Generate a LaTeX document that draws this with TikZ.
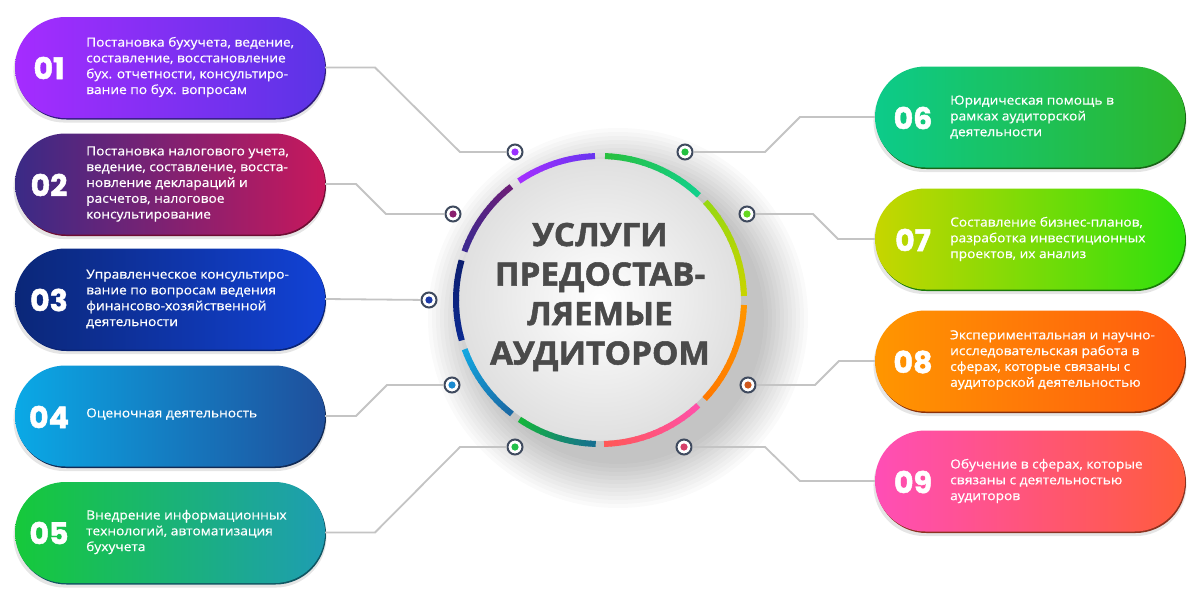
\documentclass[tikz,border=0pt]{standalone}
\usepackage{fontspec}
\setmainfont{Open Sans}
\newfontfamily\bodyfont{Open Sans}[FakeStretch=1.09, FakeBold=0.6]
\newfontfamily\numfont{Poppins}[FakeBold=1.6]
\newfontfamily\titlefont{Open Sans}[FakeStretch=1.04, BoldFeatures={FakeBold=1.6}]
\usetikzlibrary{shadows}
\definecolor{aA}{HTML}{A52CFF}\definecolor{aB}{HTML}{5B34E6}
\definecolor{bA}{HTML}{3A2A86}\definecolor{bB}{HTML}{C8185C}
\definecolor{cA}{HTML}{0B2778}\definecolor{cB}{HTML}{1242D6}
\definecolor{dA}{HTML}{0AA9E6}\definecolor{dB}{HTML}{1F4F9C}
\definecolor{eA}{HTML}{16C93A}\definecolor{eB}{HTML}{1E9DB2}
\definecolor{fA}{HTML}{0CCB8A}\definecolor{fB}{HTML}{2DB72A}
\definecolor{gA}{HTML}{C6D600}\definecolor{gB}{HTML}{2EE00E}
\definecolor{hA}{HTML}{FF9600}\definecolor{hB}{HTML}{FF5A10}
\definecolor{iA}{HTML}{FF4EB6}\definecolor{iB}{HTML}{FF5C3C}
\definecolor{r1a}{HTML}{6A34F0}\definecolor{r1b}{HTML}{A330FF}
\definecolor{r2a}{HTML}{6C1E78}\definecolor{r2b}{HTML}{3D2A90}
\definecolor{r3a}{HTML}{0C1E70}\definecolor{r3b}{HTML}{0C2A90}
\definecolor{r4a}{HTML}{12A6E0}\definecolor{r4b}{HTML}{1A6AA5}
\definecolor{r5a}{HTML}{14B53C}\definecolor{r5b}{HTML}{16708F}
\definecolor{r6a}{HTML}{28C040}\definecolor{r6b}{HTML}{12D08A}
\definecolor{r7a}{HTML}{98D810}\definecolor{r7b}{HTML}{C6D400}
\definecolor{r8a}{HTML}{FF9500}\definecolor{r8b}{HTML}{FF7A00}
\definecolor{r9a}{HTML}{FF50A8}\definecolor{r9b}{HTML}{FF5858}
\definecolor{dotring}{HTML}{3F4A5E}
\definecolor{linegray}{HTML}{C4C4C4}
\definecolor{titlegray}{HTML}{4A4A4A}
\definecolor{diskgray}{HTML}{E0E0E0}
\definecolor{p1}{HTML}{9A30FF}\definecolor{p2}{HTML}{8A1F6E}
\definecolor{p3}{HTML}{1C3AA8}\definecolor{p4}{HTML}{1A8AD0}
\definecolor{p5}{HTML}{22C04A}\definecolor{p6}{HTML}{22C040}
\definecolor{p7}{HTML}{66D820}\definecolor{p8}{HTML}{D0581C}
\definecolor{p9}{HTML}{D6406A}
% gradient arc: start, end (image angles, counter-clockwise), colour at start, colour at end
\newcommand\ringarc[4]{%
  \foreach \k in {0,...,15}{%
    \pgfmathsetmacro\aa{-(#1+(#2-#1)*\k/16)}%
    \pgfmathsetmacro\bb{-(#1+(#2-#1)*(\k+1.15)/16)}%
    \pgfmathsetmacro\pp{100*\k/15}%
    \draw[ringseg, #4!\pp!#3] ([shift={(hub.center)}]\aa:144) arc[start angle=\aa, end angle=\bb, radius=144];
  }}
\begin{document}
\begin{tikzpicture}[x=1pt,y=-1pt,
  svc/.style 2 args={rounded corners=50.5pt, minimum width=310pt, minimum height=101pt,
     inner sep=0pt, left color=#1, right color=#2,
     general shadow={fill=black, opacity=0.10, shadow yshift=-4pt, shadow scale=1.01},
     general shadow={fill=#2!55!black, shadow xshift=1pt, shadow yshift=-1.5pt}},
  num/.style={text=white, font=\numfont\bfseries\fontsize{30}{30}\selectfont, inner sep=0pt},
  txt/.style={text=white, anchor=west, align=left, font=\bodyfont\fontsize{12.6}{15.8}\selectfont, inner sep=0pt},
  dotn/.style={circle, draw=dotring, line width=2pt, fill=white, minimum size=15pt, inner sep=0pt,
     path picture={\fill[#1] (path picture bounding box.center) circle (3.6pt);}},
  conn/.style={draw=linegray, line width=1.8pt},
  ringseg/.style={line width=6pt},
]
\useasboundingbox (0,0) rectangle (1200,600);
\fill[white] (0,0) rectangle (1200,600);

% shadow of the hub
\foreach \r in {146,150,...,190}{\fill[black, opacity=0.018] (618,318) circle (\r);}
\node[circle, minimum size=282pt, inner sep=0pt, inner color=white, outer color=diskgray] (hub) at (600,300) {};

% ring
\ringarc{92}{124}{r1a}{r1b}
\ringarc{128}{160}{r2a}{r2b}
\ringarc{164}{196}{r3a}{r3b}
\ringarc{200}{232}{r4a}{r4b}
\ringarc{236}{268}{r5a}{r5b}
\ringarc{88}{47}{r6a}{r6b}
\ringarc{43}{2}{r7a}{r7b}
\ringarc{-2}{-43}{r8a}{r8b}
\ringarc{-47}{-88}{r9a}{r9b}

\node[text=titlegray, align=center, font=\titlefont\bfseries\fontsize{32}{39.5}\selectfont] (title) at (600,297)
  {УСЛУГИ\\ПРЕДОСТАВ-\\ЛЯЕМЫЕ\\АУДИТОРОМ};

% boxes
\node[svc={aA}{aB}] (b1) at (170,67.5) {};
\node[svc={bA}{bB}] (b2) at (170,184) {};
\node[svc={cA}{cB}] (b3) at (170,299) {};
\node[svc={dA}{dB}] (b4) at (170,416) {};
\node[svc={eA}{eB}] (b5) at (170,532.5) {};
\node[svc={fA}{fB}] (b6) at (1030,117) {};
\node[svc={gA}{gB}] (b7) at (1030,239) {};
\node[svc={hA}{hB}] (b8) at (1030,361) {};
\node[svc={iA}{iB}] (b9) at (1030,481) {};

\node[num] (n1) at (49,68) {01};
\node[num] (n2) at (49,185) {02};
\node[num] (n3) at (49,300) {03};
\node[num] (n4) at (49,417) {04};
\node[num] (n5) at (49,533) {05};
\node[num] (n6) at (913,118) {06};
\node[num] (n7) at (913,240) {07};
\node[num] (n8) at (913,362) {08};
\node[num] (n9) at (913,482) {09};

\node[txt] (t1) at (86,67) {Постановка бухучета, ведение,\\составление, восстановление\\бух. отчетности, консультиро-\\вание по бух. вопросам};
\node[txt] (t2) at (86,184) {Постановка налогового учета,\\ведение, составление, восста-\\новление деклараций и\\расчетов, налоговое\\консультирование};
\node[txt] (t3) at (86,299) {Управленческое консультиро-\\вание по вопросам ведения\\финансово-хозяйственной\\деятельности};
\node[txt] (t4) at (86,414) {Оценочная деятельность};
\node[txt] (t5) at (86,532) {Внедрение информационных\\технологий, автоматизация\\бухучета};
\node[txt] (t6) at (950,117) {Юридическая помощь в\\рамках аудиторской\\деятельности};
\node[txt] (t7) at (950,239) {Составление бизнес-планов,\\разработка инвестиционных\\проектов, их анализ};
\node[txt] (t8) at (950,360) {Экспериментальная и научно-\\исследовательская работа в\\сферах, которые связаны с\\аудиторской деятельностью};
\node[txt] (t9) at (950,481) {Обучение в сферах, которые\\связаны с деятельностью\\аудиторов};

% dots
\node[dotn=p1] (d1) at (515,152) {};
\node[dotn=p2] (d2) at (453,214) {};
\node[dotn=p3] (d3) at (429,300) {};
\node[dotn=p4] (d4) at (452,385) {};
\node[dotn=p5] (d5) at (515,447) {};
\node[dotn=p6] (d6) at (685,152) {};
\node[dotn=p7] (d7) at (747,214) {};
\node[dotn=p8] (d8) at (748,385) {};
\node[dotn=p9] (d9) at (684,447) {};

% connectors
\draw[conn] (b1.east) -- (375,67.5) -- (460,152) -- (d1);
\draw[conn] (b2.east) -- (356,184) -- (386,214) -- (d2);
\draw[conn] (b3.east) -- (d3);
\draw[conn] (b4.east) -- (356,416) -- (387,385) -- (d4);
\draw[conn] (b5.east) -- (375,532.5) -- (460,447) -- (d5);
\draw[conn] (d6) -- (765,152) -- (800,117) -- (b6.west);
\draw[conn] (d7) -- (813,214) -- (838,239) -- (b7.west);
\draw[conn] (d8) -- (815,385) -- (839,361) -- (b8.west);
\draw[conn] (d9) -- (765,447) -- (800,481) -- (b9.west);
\end{tikzpicture}
\end{document}
